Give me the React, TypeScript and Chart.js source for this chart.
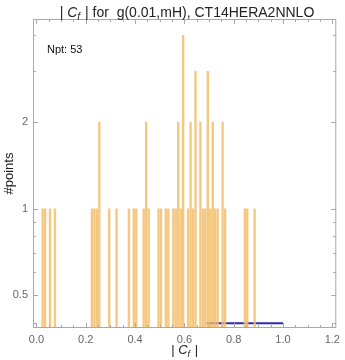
import React, { useEffect, useRef } from "react";
import { Chart, registerables } from "chart.js";

Chart.register(...registerables);

// Histogram bins (left edge, width 0.01) and counts
const binStarts = [0.02, 0.03, 0.05, 0.07, 0.22, 0.23, 0.24, 0.25, 0.29, 0.32, 0.37, 0.39, 0.40, 0.43, 0.44, 0.45, 0.49, 0.50, 0.52, 0.53, 0.55, 0.56, 0.57, 0.58, 0.59, 0.61, 0.62, 0.63, 0.64, 0.66, 0.67, 0.68, 0.69, 0.70, 0.71, 0.72, 0.73, 0.75, 0.76, 0.84, 0.85, 0.88];
const binCounts = [1, 1, 1, 1, 1, 1, 1, 2, 1, 1, 1, 1, 1, 1, 2, 1, 1, 1, 1, 1, 1, 1, 2, 1, 4, 1, 2, 1, 3, 2, 1, 1, 3, 1, 2, 1, 1, 2, 1, 1, 1, 1];
const binWidth = 0.01;

// Blue reference line
const lineX = [0.69, 1.0];
const lineY = [0.4, 0.4];

const xTicks = [0, 0.2, 0.4, 0.6, 0.8, 1.0, 1.2];
const xMinorTicks = [0.05, 0.1, 0.15, 0.25, 0.3, 0.35, 0.45, 0.5, 0.55, 0.65, 0.7, 0.75, 0.85, 0.9, 0.95, 1.05, 1.1, 1.15];
const yTicks = [0.5, 1, 2];
const yMinorTicks = [0.4, 0.6, 0.7, 0.8, 0.9, 3, 4];

const npt = 53;
const titleRest = " | for  g(0.01,mH), CT14HERA2NNLO";

const FONT = "'Liberation Sans', Arial, sans-serif";

const decorPlugin = {
  id: "decor",
  afterDraw(chart: any) {
    const { ctx, chartArea } = chart;
    const xs = chart.scales.x;
    const ys = chart.scales.y;
    const { left, right, top, bottom } = chartArea;
    ctx.save();
    // frame
    ctx.strokeStyle = "#a8a8a8";
    ctx.lineWidth = 1;
    ctx.strokeRect(left + 0.5, top + 0.5, right - left - 1, bottom - top - 1);
    ctx.beginPath();
    const xt = (v: number, len: number) => {
      const p = Math.round(xs.getPixelForValue(v)) + 0.5;
      ctx.moveTo(p, bottom);
      ctx.lineTo(p, bottom - len);
      ctx.moveTo(p, top);
      ctx.lineTo(p, top + len);
    };
    const yt = (v: number, len: number) => {
      const p = Math.round(ys.getPixelForValue(v)) + 0.5;
      ctx.moveTo(left, p);
      ctx.lineTo(left + len, p);
      ctx.moveTo(right, p);
      ctx.lineTo(right - len, p);
    };
    xTicks.forEach((v) => xt(v, 5));
    xMinorTicks.forEach((v) => xt(v, 3));
    yTicks.forEach((v) => yt(v, 5));
    yMinorTicks.forEach((v) => yt(v, 3));
    ctx.stroke();

    // title
    ctx.fillStyle = "#222";
    ctx.textBaseline = "alphabetic";
    ctx.textAlign = "left";
    const tf = `14px ${FONT}`;
    const tfi = `italic 14px ${FONT}`;
    const tfs = `italic 10px ${FONT}`;
    ctx.font = tf;
    const w1 = ctx.measureText("| ").width;
    const w4 = ctx.measureText(titleRest).width;
    ctx.font = tfi;
    const w2 = ctx.measureText("C").width;
    ctx.font = tfs;
    const w3 = ctx.measureText("f").width + 1;
    const total = w1 + w2 + w3 + w4;
    let x0 = 187 - total / 2;
    const by = 17;
    ctx.font = tf;
    ctx.fillText("| ", x0, by);
    x0 += w1;
    ctx.font = tfi;
    ctx.fillText("C", x0, by);
    x0 += w2;
    ctx.font = tfs;
    ctx.fillText("f", x0, by + 3);
    x0 += w3;
    ctx.font = tf;
    ctx.fillText(titleRest, x0, by);

    // x axis title
    const af = `13px ${FONT}`;
    const afi = `italic 13px ${FONT}`;
    const afs = `italic 9px ${FONT}`;
    ctx.font = af;
    const a1 = ctx.measureText("| ").width;
    const a4 = ctx.measureText(" |").width;
    ctx.font = afi;
    const a2 = ctx.measureText("C").width;
    ctx.font = afs;
    const a3 = ctx.measureText("f").width + 1;
    let ax = (left + right) / 2 - (a1 + a2 + a3 + a4) / 2;
    const aby = 354;
    ctx.font = af;
    ctx.fillText("| ", ax, aby);
    ax += a1;
    ctx.font = afi;
    ctx.fillText("C", ax, aby);
    ax += a2;
    ctx.font = afs;
    ctx.fillText("f", ax, aby + 3);
    ax += a3;
    ctx.font = af;
    ctx.fillText(" |", ax, aby);

    // y axis title
    ctx.save();
    ctx.translate(13, (top + bottom) / 2);
    ctx.rotate(-Math.PI / 2);
    ctx.textAlign = "center";
    ctx.font = `13px ${FONT}`;
    ctx.fillText("#points", 0, 0);
    ctx.restore();

    // Npt label
    ctx.font = `11px ${FONT}`;
    ctx.textAlign = "left";
    ctx.textBaseline = "middle";
    ctx.fillStyle = "#111";
    ctx.fillText(`Npt: ${npt}`, left + 14, 50);
    ctx.restore();
  },
};

export default function App() {
  const ref = useRef<HTMLCanvasElement>(null);
  useEffect(() => {
    document.body.style.margin = "0";
    const barData = binStarts.map((b, i) => ({ x: b + binWidth / 2, y: binCounts[i] }));
    const lineData = lineX.map((x, i) => ({ x, y: lineY[i] }));
    const chart = new Chart(ref.current as HTMLCanvasElement, {
      type: "bar",
      data: {
        datasets: [
          {
            type: "bar",
            data: barData as any,
            backgroundColor: "rgba(243,190,108,0.85)",
            borderWidth: 0,
            barPercentage: 0.97,
            categoryPercentage: 1,
          } as any,
          {
            type: "line",
            data: lineData as any,
            borderColor: "#2b2bb0",
            borderWidth: 2,
            pointRadius: 0,
            fill: false,
          } as any,
        ],
      },
      plugins: [decorPlugin],
      options: {
        animation: false,
        responsive: false,
        maintainAspectRatio: false,
        layout: { padding: { top: 19, right: 2, left: 0, bottom: 0 } },
        plugins: { legend: { display: false }, tooltip: { enabled: false }, title: { display: false } },
        scales: {
          x: {
            type: "linear",
            offset: false,
            min: -0.014,
            max: 1.216,
            grid: { display: false, drawTicks: false, offset: false },
            border: { display: false },
            afterBuildTicks: (s: any) => {
              s.ticks = xTicks.map((v) => ({ value: v }));
            },
            afterFit: (s: any) => {
              s.height = 32;
            },
            ticks: {
              padding: 5,
              color: "#666",
              font: { family: FONT, size: 11 },
              maxRotation: 0,
              autoSkip: false,
              callback: (v: any) => Number(v).toFixed(1),
            },
          },
          y: {
            type: "logarithmic",
            min: 0.385,
            max: 4.55,
            grid: { display: false, drawTicks: false },
            border: { display: false },
            afterBuildTicks: (s: any) => {
              s.ticks = yTicks.map((v) => ({ value: v }));
            },
            afterFit: (s: any) => {
              s.width = 33;
            },
            ticks: {
              padding: 5,
              color: "#666",
              font: { family: FONT, size: 11 },
              autoSkip: false,
              callback: (v: any) => String(v),
            },
          },
        },
      } as any,
    });
    return () => chart.destroy();
  }, []);
  return (
    <div style={{ width: 345, height: 360 }}>
      <canvas ref={ref} width={345} height={360} style={{ display: "block" }} />
    </div>
  );
}
